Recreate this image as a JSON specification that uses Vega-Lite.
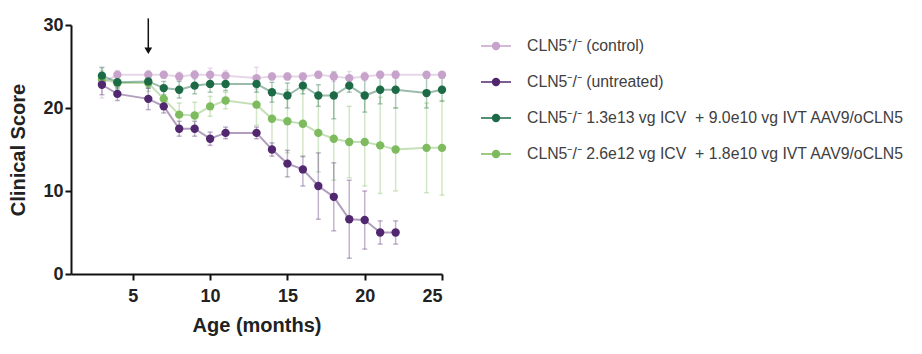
{
  "$schema": "https://vega.github.io/schema/vega-lite/v6.json",
  "autosize": {"type": "none"},
  "padding": {"left": 71, "top": 25, "right": 480, "bottom": 80},
  "width": 371,
  "height": 249,
  "background": "white",
  "config": {
    "view": {"stroke": null},
    "axis": {
      "domainColor": "#111",
      "domainWidth": 2,
      "tickColor": "#111",
      "tickWidth": 2,
      "tickSize": 6,
      "grid": false,
      "labelFont": "Liberation Sans",
      "labelFontWeight": "bold",
      "labelFontSize": 18,
      "labelColor": "#222",
      "titleFont": "Liberation Sans",
      "titleFontWeight": "bold",
      "titleFontSize": 20,
      "titleColor": "#222"
    }
  },
  "datasets": {
    "d": [
      {"group": "C", "month": 3, "score": 23.0, "lo": 21.2, "hi": 24.8},
      {"group": "C", "month": 4, "score": 24.0, "lo": 23.5, "hi": 24.5},
      {"group": "C", "month": 6, "score": 24.0, "lo": 23.5, "hi": 24.5},
      {"group": "C", "month": 7, "score": 24.0, "lo": 23.6, "hi": 24.4},
      {"group": "C", "month": 8, "score": 23.8, "lo": 23.3, "hi": 24.3},
      {"group": "C", "month": 9, "score": 24.0, "lo": 23.5, "hi": 24.5},
      {"group": "C", "month": 10, "score": 24.0, "lo": 23.2, "hi": 24.8},
      {"group": "C", "month": 11, "score": 23.9, "lo": 23.3, "hi": 24.5},
      {"group": "C", "month": 13, "score": 23.6, "lo": 22.3, "hi": 24.9},
      {"group": "C", "month": 14, "score": 23.8, "lo": 23.4, "hi": 24.2},
      {"group": "C", "month": 15, "score": 23.8, "lo": 23.4, "hi": 24.2},
      {"group": "C", "month": 16, "score": 23.8, "lo": 23.4, "hi": 24.2},
      {"group": "C", "month": 17, "score": 24.0, "lo": 23.6, "hi": 24.4},
      {"group": "C", "month": 18, "score": 23.8, "lo": 23.2, "hi": 24.4},
      {"group": "C", "month": 19, "score": 23.6, "lo": 22.8, "hi": 24.4},
      {"group": "C", "month": 20, "score": 23.8, "lo": 23.3, "hi": 24.3},
      {"group": "C", "month": 21, "score": 24.0, "lo": 23.6, "hi": 24.4},
      {"group": "C", "month": 22, "score": 24.0, "lo": 23.6, "hi": 24.4},
      {"group": "C", "month": 24, "score": 24.0, "lo": 23.7, "hi": 24.3},
      {"group": "C", "month": 25, "score": 24.0, "lo": 23.7, "hi": 24.3},
      {"group": "L", "month": 3, "score": 23.5, "lo": 22.5, "hi": 24.5},
      {"group": "L", "month": 4, "score": 23.0, "lo": 22.0, "hi": 24.0},
      {"group": "L", "month": 6, "score": 23.0, "lo": 22.0, "hi": 24.0},
      {"group": "L", "month": 7, "score": 21.1, "lo": 20.1, "hi": 22.1},
      {"group": "L", "month": 8, "score": 19.2, "lo": 17.8, "hi": 20.6},
      {"group": "L", "month": 9, "score": 19.1, "lo": 17.5, "hi": 20.7},
      {"group": "L", "month": 10, "score": 20.2, "lo": 19.0, "hi": 21.4},
      {"group": "L", "month": 11, "score": 20.9, "lo": 19.9, "hi": 21.9},
      {"group": "L", "month": 13, "score": 20.4, "lo": 17.9, "hi": 22.9},
      {"group": "L", "month": 14, "score": 18.7, "lo": 15.2, "hi": 22.2},
      {"group": "L", "month": 15, "score": 18.4, "lo": 14.6, "hi": 22.2},
      {"group": "L", "month": 16, "score": 18.1, "lo": 14.1, "hi": 22.1},
      {"group": "L", "month": 17, "score": 17.0, "lo": 12.3, "hi": 21.7},
      {"group": "L", "month": 18, "score": 16.3, "lo": 11.3, "hi": 21.3},
      {"group": "L", "month": 19, "score": 15.9, "lo": 11.6, "hi": 20.2},
      {"group": "L", "month": 20, "score": 15.9, "lo": 10.6, "hi": 21.2},
      {"group": "L", "month": 21, "score": 15.5, "lo": 9.7, "hi": 21.3},
      {"group": "L", "month": 22, "score": 15.0, "lo": 10.0, "hi": 20.0},
      {"group": "L", "month": 24, "score": 15.2, "lo": 9.8, "hi": 20.6},
      {"group": "L", "month": 25, "score": 15.2, "lo": 9.5, "hi": 20.9},
      {"group": "H", "month": 3, "score": 23.9, "lo": 22.9, "hi": 24.9},
      {"group": "H", "month": 4, "score": 23.1, "lo": 22.3, "hi": 23.9},
      {"group": "H", "month": 6, "score": 23.2, "lo": 22.4, "hi": 24.0},
      {"group": "H", "month": 7, "score": 22.4, "lo": 21.6, "hi": 23.2},
      {"group": "H", "month": 8, "score": 22.2, "lo": 21.2, "hi": 23.2},
      {"group": "H", "month": 9, "score": 22.7, "lo": 21.7, "hi": 23.7},
      {"group": "H", "month": 10, "score": 22.9, "lo": 21.9, "hi": 23.9},
      {"group": "H", "month": 11, "score": 22.9, "lo": 22.1, "hi": 23.7},
      {"group": "H", "month": 13, "score": 22.9, "lo": 21.9, "hi": 23.9},
      {"group": "H", "month": 14, "score": 21.9, "lo": 20.7, "hi": 23.1},
      {"group": "H", "month": 15, "score": 21.5, "lo": 20.0, "hi": 23.0},
      {"group": "H", "month": 16, "score": 22.7, "lo": 21.7, "hi": 23.7},
      {"group": "H", "month": 17, "score": 21.5, "lo": 20.2, "hi": 22.8},
      {"group": "H", "month": 18, "score": 21.5, "lo": 18.7, "hi": 24.3},
      {"group": "H", "month": 19, "score": 22.7, "lo": 21.9, "hi": 23.5},
      {"group": "H", "month": 20, "score": 21.5, "lo": 19.5, "hi": 23.5},
      {"group": "H", "month": 21, "score": 22.2, "lo": 20.5, "hi": 23.9},
      {"group": "H", "month": 22, "score": 22.2, "lo": 20.0, "hi": 24.4},
      {"group": "H", "month": 24, "score": 21.8, "lo": 20.0, "hi": 23.6},
      {"group": "H", "month": 25, "score": 22.2, "lo": 20.8, "hi": 23.6},
      {"group": "U", "month": 3, "score": 22.8, "lo": 21.6, "hi": 24.0},
      {"group": "U", "month": 4, "score": 21.7, "lo": 20.9, "hi": 22.5},
      {"group": "U", "month": 6, "score": 21.1, "lo": 19.8, "hi": 22.4},
      {"group": "U", "month": 7, "score": 20.2, "lo": 19.4, "hi": 21.0},
      {"group": "U", "month": 8, "score": 17.5, "lo": 16.6, "hi": 18.4},
      {"group": "U", "month": 9, "score": 17.5, "lo": 16.6, "hi": 18.4},
      {"group": "U", "month": 10, "score": 16.3, "lo": 15.5, "hi": 17.1},
      {"group": "U", "month": 11, "score": 17.0, "lo": 16.3, "hi": 17.7},
      {"group": "U", "month": 13, "score": 17.0, "lo": 16.3, "hi": 17.7},
      {"group": "U", "month": 14, "score": 15.0, "lo": 14.2, "hi": 15.8},
      {"group": "U", "month": 15, "score": 13.3, "lo": 11.7, "hi": 14.9},
      {"group": "U", "month": 16, "score": 12.6, "lo": 10.6, "hi": 14.2},
      {"group": "U", "month": 17, "score": 10.6, "lo": 6.6, "hi": 14.6},
      {"group": "U", "month": 18, "score": 9.3, "lo": 5.2, "hi": 13.4},
      {"group": "U", "month": 19, "score": 6.6, "lo": 1.9, "hi": 11.3},
      {"group": "U", "month": 20, "score": 6.5, "lo": 3.0, "hi": 10.0},
      {"group": "U", "month": 21, "score": 5.0, "lo": 3.6, "hi": 6.4},
      {"group": "U", "month": 22, "score": 5.0, "lo": 3.6, "hi": 6.4}
    ],
    "arrow": [
      {"month": 6, "score": 26.9, "score2": 30.8}
    ]
  },
  "encoding": {
    "x": {
      "field": "month",
      "type": "quantitative",
      "title": "Age (months)",
      "scale": {"domain": [1, 25], "nice": false, "zero": false},
      "axis": {"values": [5, 10, 15, 20, 25], "labelPadding": 7, "titlePadding": 10}
    },
    "y": {
      "field": "score",
      "type": "quantitative",
      "title": "Clinical Score",
      "scale": {"domain": [0, 30], "nice": false},
      "axis": {"values": [0, 10, 20, 30], "labelPadding": 2, "titlePadding": 14}
    }
  },
  "layer": [
    {
      "data": {"name": "arrow"},
      "mark": {"type": "rule", "color": "#111", "strokeWidth": 1.5},
      "encoding": {"y2": {"field": "score2"}}
    },
    {
      "data": {"name": "arrow"},
      "mark": {"type": "point", "shape": "triangle-down", "filled": true, "color": "#111", "size": 60, "opacity": 1}
    },
    {
      "data": {"name": "d"},
      "mark": {"type": "errorbar", "ticks": true, "opacity": 0.35, "thickness": 1.5},
      "encoding": {
        "y": {"field": "lo", "type": "quantitative", "title": "Clinical Score"},
        "y2": {"field": "hi"},
        "color": {"field": "group", "type": "nominal", "scale": {"domain": ["C", "U", "H", "L"], "range": ["#c7a3cb", "#51276f", "#1d6b46", "#7dbb5e"]}}
      }
    },
    {
      "data": {"name": "d"},
      "mark": {"type": "line", "strokeWidth": 2, "opacity": 0.45},
      "encoding": {
        "color": {"field": "group", "type": "nominal", "scale": {"domain": ["C", "U", "H", "L"], "range": ["#c7a3cb", "#51276f", "#1d6b46", "#7dbb5e"]}}
      }
    },
    {
      "data": {"name": "d"},
      "mark": {"type": "point", "filled": true, "size": 70, "opacity": 1},
      "encoding": {
        "color": {
          "field": "group",
          "type": "nominal",
          "scale": {"domain": ["C", "U", "H", "L"], "range": ["#c7a3cb", "#51276f", "#1d6b46", "#7dbb5e"]},
          "legend": {
            "title": null,
            "orient": "none",
            "legendX": 409,
            "legendY": 5,
            "padding": 0,
            "symbolType": "M-1,0L1,0M-0.23,0A0.23,0.23,0,1,1,0.23,0A0.23,0.23,0,1,1,-0.23,0Z",
            "symbolSize": 900,
            "symbolStrokeWidth": 1.5,
            "symbolOpacity": 1,
            "labelOffset": 15,
            "rowPadding": 12,
            "labelFont": "Liberation Sans",
            "labelFontSize": 15.8,
            "labelColor": "#404040",
            "labelLimit": 0,
            "labelExpr": "datum.value == 'C' ? 'CLN5⁺/⁻ (control)' : datum.value == 'U' ? 'CLN5⁻/⁻ (untreated)' : datum.value == 'H' ? 'CLN5⁻/⁻ 1.3e13 vg ICV\u00a0 + 9.0e10 vg IVT AAV9/oCLN5' : 'CLN5⁻/⁻ 2.6e12 vg ICV\u00a0 + 1.8e10 vg IVT AAV9/oCLN5'",
            "encode": {
              "symbols": {
                "update": {
                  "fill": {"scale": "color", "field": "value"},
                  "stroke": {"scale": "color", "field": "value"},
                  "opacity": {"value": 1}
                }
              }
            }
          }
        }
      }
    }
  ]
}
